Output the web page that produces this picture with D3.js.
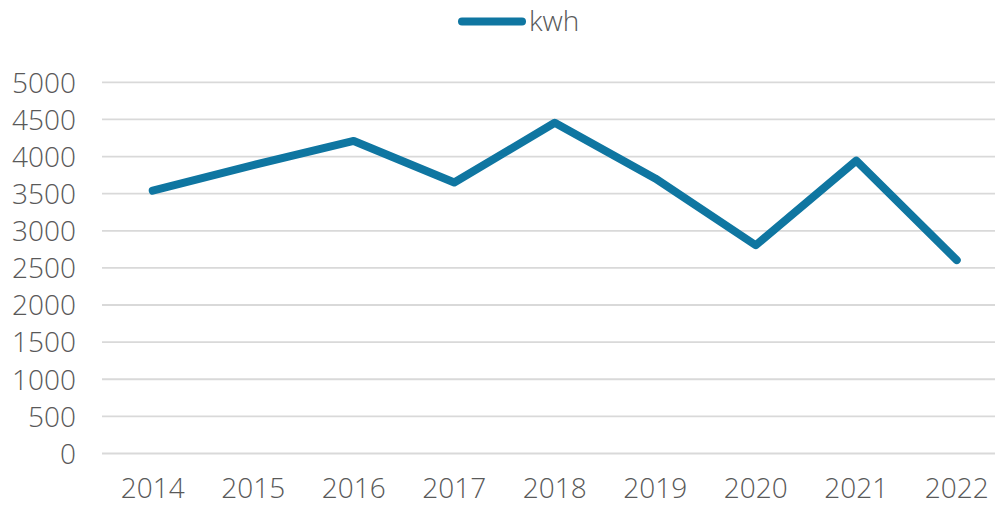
<!DOCTYPE html>
<html>
<head>
<meta charset="utf-8">
<script src="https://cdn.jsdelivr.net/npm/d3@7"></script>
<style>
  body { margin: 0; background: #fff; }
  text { font-family: "Open Sans", sans-serif; font-weight: 300; fill: #595959; }
</style>
</head>
<body>
<div id="chart"></div>
<script>
// data
var years = ['2014', '2015', '2016', '2017', '2018', '2019', '2020', '2021', '2022'];
var kwh = [3540, 3885, 4210, 3650, 4455, 3705, 2805, 3945, 2605];
var yTicks = [0, 500, 1000, 1500, 2000, 2500, 3000, 3500, 4000, 4500, 5000];
var seriesName = 'kwh';

var W = 995, H = 506;
var lineColor = '#0f76a1';
var fontSize = 28;

var svg = d3.select('#chart').append('svg')
  .attr('width', W)
  .attr('height', H);

// plot area runs past the right edge (cropped chart)
var x = d3.scaleBand()
  .domain(years)
  .range([102.5, 1007]);

var y = d3.scaleLinear()
  .domain([0, 5000])
  .range([453.5, 82.3]);

// gridlines
svg.append('g')
  .selectAll('line')
  .data(yTicks)
  .enter().append('line')
  .attr('x1', 102)
  .attr('x2', W)
  .attr('y1', function (d) { return y(d); })
  .attr('y2', function (d) { return y(d); })
  .attr('stroke', '#d9d9d9')
  .attr('stroke-width', 1.8);

// y axis labels
var yAxis = d3.axisLeft(y)
  .tickValues(yTicks)
  .tickFormat(d3.format('d'))
  .tickSize(0)
  .tickPadding(0);
var gy = svg.append('g')
  .attr('transform', 'translate(76,0)')
  .call(yAxis);
gy.select('.domain').remove();
gy.selectAll('text')
  .attr('font-size', fontSize)
  .attr('dy', '0.35em')
  .style('font-family', '"Open Sans", sans-serif')
  .style('font-weight', 300)
  .attr('fill', '#595959');

// x axis labels
var xAxis = d3.axisBottom(x)
  .tickSize(0)
  .tickPadding(0);
var gx = svg.append('g')
  .attr('transform', 'translate(0,488)')
  .call(xAxis);
gx.select('.domain').remove();
gx.selectAll('text')
  .attr('font-size', fontSize)
  .attr('dy', '0.35em')
  .style('font-family', '"Open Sans", sans-serif')
  .style('font-weight', 300)
  .attr('fill', '#595959');

// series line
var line = d3.line()
  .x(function (d, i) { return x(years[i]) + x.bandwidth() / 2; })
  .y(function (d) { return y(d); });

svg.append('path')
  .datum(kwh)
  .attr('d', line)
  .attr('fill', 'none')
  .attr('stroke', lineColor)
  .attr('stroke-width', 8)
  .attr('stroke-linejoin', 'round')
  .attr('stroke-linecap', 'round');

// legend
var legend = svg.append('g').attr('transform', 'translate(0,21.5)');
legend.append('line')
  .attr('x1', 462)
  .attr('x2', 522)
  .attr('stroke', lineColor)
  .attr('stroke-width', 8)
  .attr('stroke-linecap', 'round');
legend.append('text')
  .attr('x', 529)
  .attr('dy', '0.35em')
  .attr('font-size', fontSize)
  .text(seriesName);
</script>
</body>
</html>
